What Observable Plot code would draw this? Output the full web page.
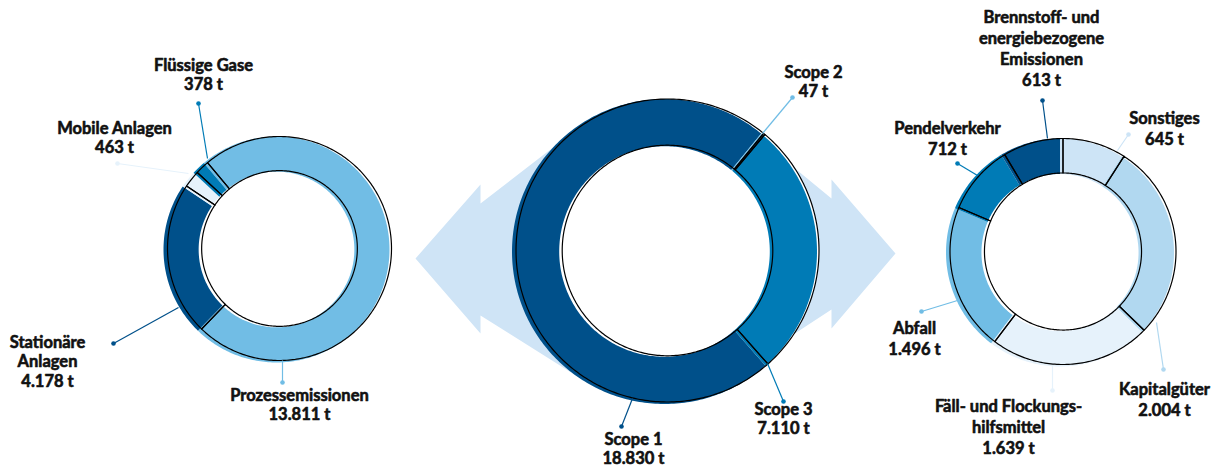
<!DOCTYPE html>
<html><head><meta charset="utf-8">
<script src="https://cdn.jsdelivr.net/npm/d3@7"></script>
<script src="https://cdn.jsdelivr.net/npm/@observablehq/plot@0.6"></script>
<style>body{margin:0;background:#fff} #chart svg{display:block}</style>
</head><body><div id="chart"></div>
<script>
// ---------- DATA ----------
const scope1Categories = ["Prozessemissionen", "Stationäre\nAnlagen", "Mobile Anlagen", "Flüssige Gase"];
const scope1Values = [13811, 4178, 463, 378];

const scopeCategories = ["Scope 1", "Scope 2", "Scope 3"];
const scopeValues = [18830, 47, 7110];

const scope3Categories = ["Sonstiges", "Kapitalgüter", "Fäll- und Flockungs-\nhilfsmittel", "Abfall", "Pendelverkehr", "Brennstoff- und\nenergiebezogene\nEmissionen"];
const scope3Values = [645, 2004, 1639, 1496, 712, 613];

const unit = "t";

// ---------- STYLE ----------
const scope1Colors = ["#71bde5", "#00508a", "#e6f2fb", "#007bb6"];
const scopeColors = ["#00508a", "#71bde5", "#007bb6"];
const scope3Colors = ["#cde4f6", "#b1d8f0", "#e6f2fb", "#71bde5", "#007bb6", "#00508a"];
const arrowColor = "#cfe4f6";

// ---------- LAYOUT (pixels) ----------
const W = 1219, H = 468;
const donuts = [
  {id: "s1", cx: 279, cy: 248, r: 112, startDeg: -40, lh: 1.2, names: scope1Categories, values: scope1Values, colors: scope1Colors,
   text: [[299, 396], [47, 343], [114, 129], [203, 66]],
   dot:  [[282, 382], [113, 343], [117, 163], [198, 103]],
   end:  [[282, 360], [178, 307], [188, 173], [207, 158]]},
  {id: "all", cx: 667, cy: 250, r: 151.5, startDeg: 138.5, lh: 1.15, names: scopeCategories, values: scopeValues, colors: scopeColors,
   text: [[633, 441], [813, 74], [783, 411]],
   dot:  [[621, 426], [792, 97], [783, 401]],
   end:  [[632, 398], [762, 133], [767, 363]]},
  {id: "s3", cx: 1062.5, cy: 251, r: 113, startDeg: 0, lh: 1.29, names: scope3Categories, values: scope3Values, colors: scope3Colors,
   text: [[1164, 118], [1164, 389], [1008, 406], [914, 328], [947, 128], [1041, 17]],
   dot:  [[1128, 134], [1163, 369], [1052, 390], [921, 311], [957, 163], [1042, 100]],
   end:  [[1117, 150], [1156, 322], [1052, 365], [957, 300], [977, 175], [1047, 138]]}
];
const innerRatio = 0.695;
const fillShift = [-3, 1];

const fmt = d3.formatLocale({decimal: ",", thousands: ".", grouping: [3], currency: ["", ""]}).format(",d");

// ---------- GEOMETRY FROM DATA ----------
const fillPts = [], linePts = [], labels = [];
for (const d of donuts) {
  const a0 = d.startDeg * Math.PI / 180;
  const arcs = d3.pie().sort(null).startAngle(a0).endAngle(a0 + 2 * Math.PI)(d.values);
  arcs.forEach((arc, i) => {
    const n = Math.max(2, Math.ceil((arc.endAngle - arc.startAngle) / (Math.PI / 180)));
    const ro = d.r, ri = d.r * innerRatio;
    const ring = [];
    for (let k = 0; k <= n; k++) { const t = arc.startAngle + (arc.endAngle - arc.startAngle) * k / n; ring.push([ro, t]); }
    for (let k = n; k >= 0; k--) { const t = arc.startAngle + (arc.endAngle - arc.startAngle) * k / n; ring.push([ri, t]); }
    for (const [r, t] of ring) {
      const rf = r === ro ? r + 1 : r;
      fillPts.push({id: d.id + i, color: d.colors[i], x: d.cx + fillShift[0] + rf * Math.sin(t), y: d.cy + fillShift[1] - rf * Math.cos(t)});
      linePts.push({id: d.id + i, x: d.cx + r * Math.sin(t), y: d.cy - r * Math.cos(t)});
    }
    labels.push({
      group: d.id,
      label: d.names[i] + "\n" + fmt(d.values[i]) + " " + unit,
      color: d.colors[i],
      tx: d.text[i][0], ty: d.text[i][1],
      dx: d.dot[i][0], dy: d.dot[i][1],
      ex: d.end[i][0], ey: d.end[i][1]
    });
  });
}

// background double arrow, relative to the central donut
const C = donuts[1];
const arrowShape = {
  L: [[0, 0], [-77, -132], [-187, -47], [-187, -66], [-252, 8], [-187, 83], [-187, 65], [-71, 138]],
  R: [[0, 0], [103, 99], [164, 59], [164, 78], [228, 3], [164, -71], [164, -52], [113, -94]]
};
const arrowPts = [];
for (const k of ["L", "R"]) for (const [dx, dy] of arrowShape[k]) arrowPts.push({k, x: C.cx + dx, y: C.cy + dy});

const textMarks = donuts.map(d => Plot.text(labels.filter(l => l.group === d.id), {
  x: "tx", y: l => l.ty - 10, text: "label", lineAnchor: "top", textAnchor: "middle",
  fontSize: 16.5, fontWeight: 700, lineHeight: d.lh, fill: "#111", stroke: "#111", strokeWidth: 0.6
}));

// ---------- PLOT ----------
const plot = Plot.plot({
  width: W, height: H,
  margin: 0,
  x: {domain: [0, W], range: [0, W], axis: null},
  y: {domain: [0, H], range: [0, H], axis: null},
  color: {type: "identity"},
  style: {fontFamily: "Lato, 'Open Sans', sans-serif", background: "white"},
  marks: [
    Plot.line(arrowPts, {x: "x", y: "y", z: "k", curve: "linear-closed", fill: arrowColor, stroke: "none"}),
    Plot.dot([C], {x: "cx", y: "cy", r: C.r, fill: "white", stroke: "none"}),
    Plot.line(fillPts, {x: "x", y: "y", z: "id", curve: "linear-closed", fill: "color", stroke: "none"}),
    Plot.line(linePts, {x: "x", y: "y", z: "id", curve: "linear-closed", fill: "none", stroke: "#000", strokeWidth: 1.2}),
    Plot.link(labels, {x1: "ex", y1: "ey", x2: "dx", y2: "dy", stroke: "color", strokeWidth: 1.2}),
    Plot.dot(labels, {x: "dx", y: "dy", r: 2.3, fill: "color", stroke: "none"}),
    ...textMarks
  ]
});
document.getElementById("chart").append(plot);
</script>
</body></html>
